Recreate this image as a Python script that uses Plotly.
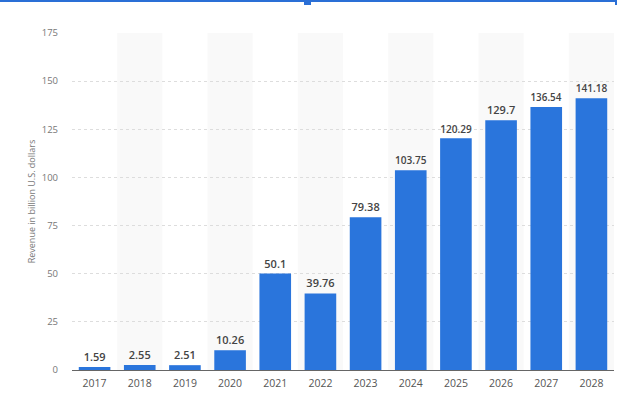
import plotly.graph_objects as go

years = ["2017", "2018", "2019", "2020", "2021", "2022", "2023", "2024", "2025", "2026", "2027", "2028"]
revenue = [1.59, 2.55, 2.51, 10.26, 50.1, 39.76, 79.38, 103.75, 120.29, 129.7, 136.54, 141.18]
labels = ["1.59", "2.55", "2.51", "10.26", "50.1", "39.76", "79.38", "103.75", "120.29", "129.7", "136.54", "141.18"]
y_ticks = [0, 25, 50, 75, 100, 125, 150, 175]

L, R, T, B = 72, 3, 33, 23
W, H = 617, 393
PW, PH = W - L - R, H - T - B

def px(x):
    return (x - L) / PW

def py(y):
    return (H - B - y) / PH

fig = go.Figure()
fig.add_trace(go.Bar(
    x=years, y=revenue, text=labels, textposition="outside",
    textfont=dict(family="Open Sans", size=11, color="#444444", weight=600),
    marker=dict(color="#2a75dc", line=dict(width=0)),
    cliponaxis=False, hoverinfo="skip",
))

shapes = []
for i, _ in enumerate(years):
    if i % 2 == 1:
        shapes.append(dict(type="rect", xref="x", yref="paper", x0=i - 0.5, x1=i + 0.5,
                           y0=0, y1=1, fillcolor="#f9f9f9", line=dict(width=0), layer="below"))
# selection frame artifacts at top
shapes.append(dict(type="line", xref="paper", yref="paper", x0=px(0), x1=px(616),
                   y0=py(1), y1=py(1), line=dict(color="#2a6fd6", width=2)))
shapes.append(dict(type="rect", xref="paper", yref="paper", x0=px(304), x1=px(311),
                   y0=py(5), y1=py(0), fillcolor="#2a6fd6", line=dict(width=0)))
shapes.append(dict(type="line", xref="paper", yref="paper", x0=px(616), x1=px(616),
                   y0=py(0), y1=py(5), line=dict(color="#2a6fd6", width=2)))

fig.update_layout(
    width=W, height=H,
    margin=dict(l=L, r=R, t=T, b=B, autoexpand=False),
    paper_bgcolor="white", plot_bgcolor="white",
    bargap=0.3, showlegend=False, shapes=shapes,
    font=dict(family="Open Sans"),
)
fig.update_xaxes(
    type="category", range=[-0.5, 11.5], showgrid=False, automargin=False,
    showline=True, linecolor="#666666", linewidth=1,
    ticks="", tickfont=dict(size=10.5, color="#555555"), ticklabelstandoff=3,
)
fig.update_yaxes(
    range=[0, 175], tickvals=y_ticks, showgrid=True, gridcolor="#dddddd", griddash="dot",
    gridwidth=1, zeroline=False, showline=False, ticks="", automargin=False,
    tickfont=dict(size=9.5, color="#777777"), ticklabelstandoff=13,
    title=dict(text="Revenue in billion U.S. dollars", font=dict(size=9, color="#777777"), standoff=4),
)

fig.write_html("out.html", config={"displayModeBar": False},
               post_script="document.body.style.margin='0';document.body.style.overflow='hidden';")
